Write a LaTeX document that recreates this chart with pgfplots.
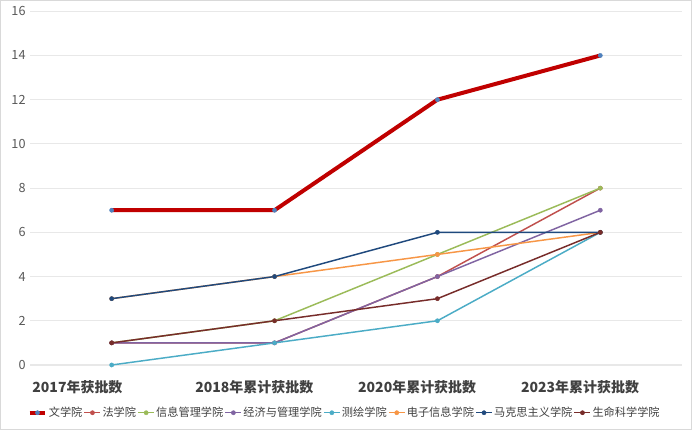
\documentclass[border=0pt]{standalone}
\usepackage{pgfplots}
\pgfplotsset{compat=1.18}
\usepackage{fontspec}
\setmainfont{Noto Sans CJK SC}
\definecolor{c1}{HTML}{C00000}
\definecolor{c1m}{HTML}{4F81BD}
\definecolor{c2}{HTML}{C0504D}
\definecolor{c3}{HTML}{9BBB59}
\definecolor{c4}{HTML}{8064A2}
\definecolor{c5}{HTML}{4BACC6}
\definecolor{c6}{HTML}{F79646}
\definecolor{c7}{HTML}{1F497D}
\definecolor{c8}{HTML}{772C2A}
\begin{document}
\begin{tikzpicture}
\draw[draw=gray!30,fill=white] (0pt,0pt) rectangle (519pt,321.75pt);
\begin{axis}[
  at={(22.5pt,48pt)}, anchor=south west,
  scale only axis, width=489pt, height=265.5pt,
  xmin=-0.5, xmax=3.5, ymin=0, ymax=16,
  ytick={0,2,...,16},
  xtick={0,1,2,3},
  xticklabels={2017年获批数,2018年累计获批数,2020年累计获批数,2023年累计获批数},
  x tick label style={font=\bfseries\fontsize{10.5pt}{12pt}\selectfont, text=black!75, anchor=north west, xshift=-63pt, yshift=-8pt},
  y tick label style={font=\fontsize{9.5pt}{11pt}\selectfont, text=black!65},
  /pgf/number format/assume math mode=true,
  ymajorgrids, grid style={draw=gray!18, line width=0.8pt},
  axis line style={draw=none},
  major tick length=0pt,
  clip=false,
  legend columns=8,
  legend style={at={(0.482,-0.135)}, anchor=center, draw=none, fill=none,
    font=\fontsize{8.4pt}{10pt}\selectfont, text=black!75, inner sep=0pt,
    /tikz/every odd column/.append style={column sep=0pt},
    /tikz/every even column/.append style={column sep=0pt},
    nodes={inner xsep=1pt}},
  legend cell align=left,
  legend image code/.code={\draw[#1] (0pt,0pt) -- (12pt,0pt); \draw[#1] plot coordinates {(6pt,0pt)};},
  every axis plot/.append style={line width=1.1pt, mark=*, mark size=1.6pt},
]
\addplot[c1, line width=3pt, mark options={fill=c1m, draw=c1m, line width=0.3pt}] coordinates {(0,7) (1,7) (2,12) (3,14)};
\addlegendentry{文学院}
\addplot[c2, mark options={fill=c2, line width=0.3pt}] coordinates {(0,1) (1,1) (2,4) (3,8)};
\addlegendentry{法学院}
\addplot[c3, mark options={fill=c3, line width=0.3pt}] coordinates {(0,1) (1,2) (2,5) (3,8)};
\addlegendentry{信息管理学院}
\addplot[c4, mark options={fill=c4, line width=0.3pt}] coordinates {(0,1) (1,1) (2,4) (3,7)};
\addlegendentry{经济与管理学院}
\addplot[c5, mark options={fill=c5, line width=0.3pt}] coordinates {(0,0) (1,1) (2,2) (3,6)};
\addlegendentry{测绘学院}
\addplot[c6, mark options={fill=c6, line width=0.3pt}] coordinates {(0,3) (1,4) (2,5) (3,6)};
\addlegendentry{电子信息学院}
\addplot[c7, mark options={fill=c7, line width=0.3pt}] coordinates {(0,3) (1,4) (2,6) (3,6)};
\addlegendentry{马克思主义学院}
\addplot[c8, mark options={fill=c8, line width=0.3pt}] coordinates {(0,1) (1,2) (2,3) (3,6)};
\addlegendentry{生命科学学院}
\end{axis}
\end{tikzpicture}
\end{document}
